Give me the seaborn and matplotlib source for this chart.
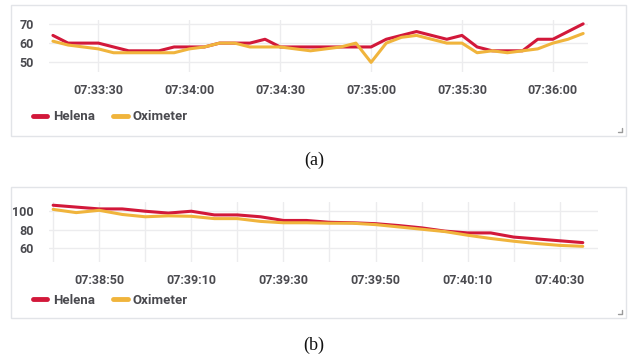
"""
Helena vs oximeter readings: two dashboard panels, (a) heart rate and (b) second session.
"""

import numpy as np
import pandas as pd
import matplotlib
matplotlib.use("Agg")
import matplotlib.pyplot as plt
import matplotlib.dates as mdates
import seaborn as sns
from matplotlib.patches import Rectangle
from matplotlib.lines import Line2D

# ---- data (5 s samples) ----
A_START = "2021-01-01 07:33:15"
A_HELENA = [64, 60, 60, 60, 58, 56, 56, 56, 58, 58, 58, 60, 60, 60, 62, 58, 58, 58,
            58, 58, 58, 58, 62, 64, 66, 64, 62, 64, 58, 56, 56, 56, 62, 62, 66, 70]
A_OXI = [61, 59, 58, 57, 55, 55, 55, 55, 55, 57, 58, 60, 60, 58, 58, 58, 57, 56,
         57, 58, 60, 50, 60, 63, 64, 62, 60, 60, 55, 56, 55, 56, 57, 60, 62, 65]
A_YTICKS = [50, 60, 70]

B_START = "2021-01-01 07:38:40"
B_HELENA = [106.5, 104.5, 102.5, 102.5, 100, 98, 100, 96, 96, 94, 90, 90,
            88, 87.5, 86.5, 84.5, 82, 78.5, 76.5, 76.5, 72, 70, 68, 66]
B_OXI = [102, 98.5, 101, 96.5, 94, 95, 94.5, 92, 92, 89, 87.5, 87.5,
         87, 87, 85.5, 83, 80.5, 78, 74, 70.5, 67.5, 65, 63, 62]
B_YTICKS = [60, 80, 100]

SERIES = ["Helena", "Oximeter"]
COLORS = {"Helena": "#d2183a", "Oximeter": "#f0b43c"}
TEXT = "#4a4a4f"
GRID = "#ececee"


def make_frame(start, helena, oxi):
    t = pd.date_range(start, periods=len(helena), freq="5s")
    df = pd.DataFrame({"time": t, "Helena": helena, "Oximeter": oxi})
    return df.melt(id_vars="time", var_name="series", value_name="value")


sns.set_theme(style="white")
plt.rcParams["font.family"] = ["Roboto", "DejaVu Sans"]

fig = plt.figure(figsize=(6.28, 3.6), dpi=100)
W, H = 628, 360


def px_axes(x0, y0, x1, y1):
    return fig.add_axes([x0 / W, 1 - y1 / H, (x1 - x0) / W, (y1 - y0) / H])


def panel(ax, df, yticks, ylim, xlim, major, minor):
    sns.lineplot(data=df, x="time", y="value", hue="series", hue_order=SERIES,
                 palette=COLORS, linewidth=2.2, ax=ax, legend=False)
    ax.set_xlim(pd.Timestamp(xlim[0]), pd.Timestamp(xlim[1]))
    ax.set_ylim(*ylim)
    ax.set_yticks(yticks)
    ax.xaxis.set_major_locator(mdates.SecondLocator(bysecond=major))
    if minor:
        ax.xaxis.set_minor_locator(mdates.SecondLocator(bysecond=minor))
    ax.xaxis.set_major_formatter(mdates.DateFormatter("%H:%M:%S"))
    ax.set_xlabel("")
    ax.set_ylabel("")
    for s in ax.spines.values():
        s.set_visible(False)
    ax.grid(True, which="both", color=GRID, linewidth=1)
    ax.tick_params(axis="both", which="both", length=0, labelsize=9, colors=TEXT)
    ax.tick_params(axis="x", pad=9)
    ax.tick_params(axis="y", pad=11)
    for lab in ax.get_xticklabels() + ax.get_yticklabels():
        lab.set_fontweight("bold")
    ax.set_axisbelow(True)


def frame_box(y0, y1):
    fig.patches.append(Rectangle((11 / W, 1 - y1 / H), (626 - 11) / W, (y1 - y0) / H,
                                 transform=fig.transFigure, fill=False,
                                 edgecolor="#e2e4e8", linewidth=1))
    # resize grip in the corner
    cx, cy = 622 / W, 1 - (y1 - 4) / H
    fig.lines.append(Line2D([cx - 4 / W, cx, cx], [cy, cy, cy + 4 / H],
                            transform=fig.transFigure, color="#9a9a9a", linewidth=1))


def legend(y):
    handles = [Line2D([], [], color=COLORS[s], linewidth=3.5) for s in SERIES]
    fig.legend(handles, SERIES, loc="center left", bbox_to_anchor=(21 / W, 1 - y / H),
               frameon=False, ncol=2, handlelength=1.1, handletextpad=0.4,
               columnspacing=1.4, prop={"weight": "bold", "size": 9.5},
               labelcolor=TEXT)


# panel (a)
frame_box(5, 136)
ax_a = px_axes(49, 20, 588, 72)
panel(ax_a, make_frame(A_START, A_HELENA, A_OXI), A_YTICKS, (45, 72),
      ("2021-01-01 07:33:13.7", "2021-01-01 07:36:11.6"), [0, 30], None)
legend(117)
fig.text(314 / W, 1 - 160 / H, "(a)", ha="center", va="center",
         family="Liberation Serif", fontsize=13, color="#111111")

# panel (b)
frame_box(187, 318)
ax_b = px_axes(49, 202, 598, 262)
panel(ax_b, make_frame(B_START, B_HELENA, B_OXI), B_YTICKS, (45, 110),
      ("2021-01-01 07:38:39.1", "2021-01-01 07:40:38.3"), [10, 30, 50], [0, 20, 40])
legend(300)
fig.text(314 / W, 1 - 345 / H, "(b)", ha="center", va="center",
         family="Liberation Serif", fontsize=13, color="#111111")

fig.savefig("out.png", dpi=100)
